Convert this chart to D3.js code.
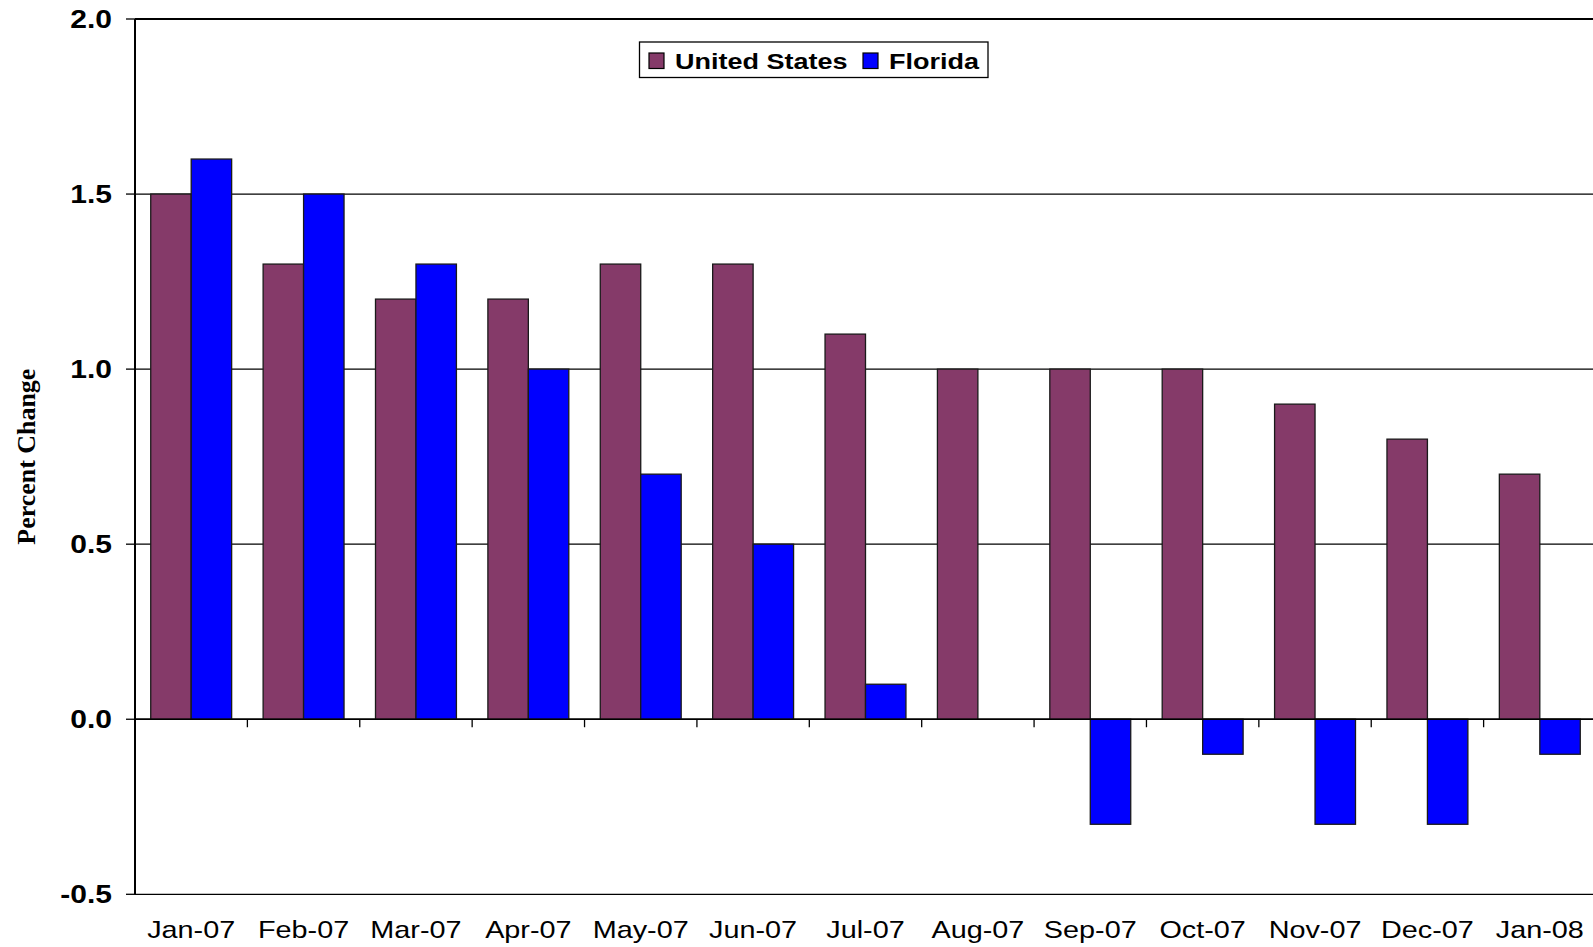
<!DOCTYPE html>
<html lang="en">
<head>
    <meta charset="UTF-8">
    <title>Percent Change: United States vs Florida</title>
    <script src="https://d3js.org/d3.v7.min.js"></script>
    <style>
        body { margin: 0; background: #fff; overflow: hidden; }
        svg { display: block; }
        .tick-label { font-family: "Liberation Sans", Arial, sans-serif; }
    </style>
</head>
<body>
    <svg width="1593" height="947"></svg>
    <script>
        // Data
        const months = ["Jan-07", "Feb-07", "Mar-07", "Apr-07", "May-07", "Jun-07", "Jul-07",
                        "Aug-07", "Sep-07", "Oct-07", "Nov-07", "Dec-07", "Jan-08"];
        const seriesNames = ["United States", "Florida"];
        const usValues = [1.5, 1.3, 1.2, 1.2, 1.3, 1.3, 1.1, 1.0, 1.0, 1.0, 0.9, 0.8, 0.7];
        const flValues = [1.6, 1.5, 1.3, 1.0, 0.7, 0.5, 0.1, 0.0, -0.3, -0.1, -0.3, -0.3, -0.1];
        const yTicks = [-0.5, 0.0, 0.5, 1.0, 1.5, 2.0];
        const colors = ["#853a69", "#0000ff"];

        const svg = d3.select("svg");

        // Plot area (right edge runs just past the window, as in the original)
        const plotLeft = 135, plotRight = 1596, plotTop = 19, plotBottom = 894.3;

        const yScale = d3.scaleLinear()
            .domain([-0.5, 2.0])
            .range([plotBottom, plotTop]);

        const x0 = d3.scaleBand()
            .domain(months)
            .range([plotLeft, plotRight])
            .paddingInner(0.28)
            .paddingOuter(0.14);

        const x1 = d3.scaleBand()
            .domain(seriesNames)
            .range([0, x0.bandwidth()]);

        const color = d3.scaleOrdinal().domain(seriesNames).range(colors);

        const rows = months.map((m, i) => ({
            month: m,
            values: [
                { key: seriesNames[0], value: usValues[i] },
                { key: seriesNames[1], value: flValues[i] }
            ]
        }));

        // Horizontal gridlines
        svg.append("g")
            .selectAll("line")
            .data(yTicks)
            .enter().append("line")
            .attr("x1", plotLeft)
            .attr("x2", plotRight)
            .attr("y1", d => yScale(d))
            .attr("y2", d => yScale(d))
            .attr("stroke", "#000")
            .attr("stroke-width", d => d === 2.0 ? 2 : 1.3);

        // Bars
        svg.append("g")
            .selectAll("g")
            .data(rows)
            .enter().append("g")
            .attr("transform", d => `translate(${x0(d.month)},0)`)
            .selectAll("rect")
            .data(d => d.values.filter(v => v.value !== 0))
            .enter().append("rect")
            .attr("x", d => x1(d.key))
            .attr("width", x1.bandwidth())
            .attr("y", d => yScale(Math.max(0, d.value)))
            .attr("height", d => Math.abs(yScale(d.value) - yScale(0)))
            .attr("fill", d => color(d.key))
            .attr("stroke", "#1a1a1a")
            .attr("stroke-width", 1.3);

        // Zero line redrawn on top, with category boundary ticks below it
        svg.append("line")
            .attr("x1", plotLeft).attr("x2", plotRight)
            .attr("y1", yScale(0)).attr("y2", yScale(0))
            .attr("stroke", "#000").attr("stroke-width", 1.3);

        const step = x0.step();
        const boundary = d => x0(d) + x0.bandwidth() + step * x0.paddingInner() / 2;
        svg.append("g")
            .selectAll("line")
            .data(months.slice(0, -1))
            .enter().append("line")
            .attr("x1", boundary)
            .attr("x2", boundary)
            .attr("y1", yScale(0))
            .attr("y2", yScale(0) + 8)
            .attr("stroke", "#000")
            .attr("stroke-width", 1.3);

        // Y axis line and ticks
        svg.append("line")
            .attr("x1", plotLeft).attr("x2", plotLeft)
            .attr("y1", plotTop).attr("y2", plotBottom)
            .attr("stroke", "#000").attr("stroke-width", 2);

        svg.append("g")
            .selectAll("line")
            .data(yTicks)
            .enter().append("line")
            .attr("x1", plotLeft - 9).attr("x2", plotLeft)
            .attr("y1", d => yScale(d)).attr("y2", d => yScale(d))
            .attr("stroke", "#000").attr("stroke-width", 1.3);

        // Y tick labels (bold, slightly wide as in the original)
        svg.append("g")
            .selectAll("text")
            .data(yTicks)
            .enter().append("text")
            .attr("class", "tick-label")
            .attr("transform", d => `translate(112,${yScale(d) + 9}) scale(1.2,1)`)
            .attr("text-anchor", "end")
            .attr("font-size", 25)
            .attr("font-weight", "bold")
            .attr("fill", "#000")
            .text(d => d.toFixed(1));

        // X labels
        svg.append("g")
            .selectAll("text")
            .data(months)
            .enter().append("text")
            .attr("class", "tick-label")
            .attr("transform", d => `translate(${x0(d) + x0.bandwidth() / 2},938) scale(1.2,1)`)
            .attr("text-anchor", "middle")
            .attr("font-size", 24)
            .attr("fill", "#000")
            .text(d => d);

        // Y axis title
        svg.append("text")
            .attr("transform", `translate(35,${(plotTop + plotBottom) / 2}) rotate(-90)`)
            .attr("text-anchor", "middle")
            .attr("font-family", "'Liberation Serif', 'Times New Roman', serif")
            .attr("font-weight", "bold")
            .attr("font-size", 25)
            .attr("textLength", 176)
            .attr("lengthAdjust", "spacingAndGlyphs")
            .text("Percent Change");

        // Legend
        const legend = svg.append("g");
        legend.append("rect")
            .attr("x", 639.5).attr("y", 42)
            .attr("width", 348.5).attr("height", 35.5)
            .attr("fill", "#fff")
            .attr("stroke", "#000")
            .attr("stroke-width", 1.3);

        const legendItems = [
            { key: seriesNames[0], sx: 649, tx: 675 },
            { key: seriesNames[1], sx: 863, tx: 889 }
        ];
        legendItems.forEach(item => {
            legend.append("rect")
                .attr("x", item.sx).attr("y", 53)
                .attr("width", 15).attr("height", 15.5)
                .attr("fill", color(item.key))
                .attr("stroke", "#000")
                .attr("stroke-width", 1.2);
            legend.append("text")
                .attr("class", "tick-label")
                .attr("transform", `translate(${item.tx},69) scale(1.2,1)`)
                .attr("font-size", 22.5)
                .attr("font-weight", "bold")
                .attr("fill", "#000")
                .text(item.key);
        });
    </script>
</body>
</html>
